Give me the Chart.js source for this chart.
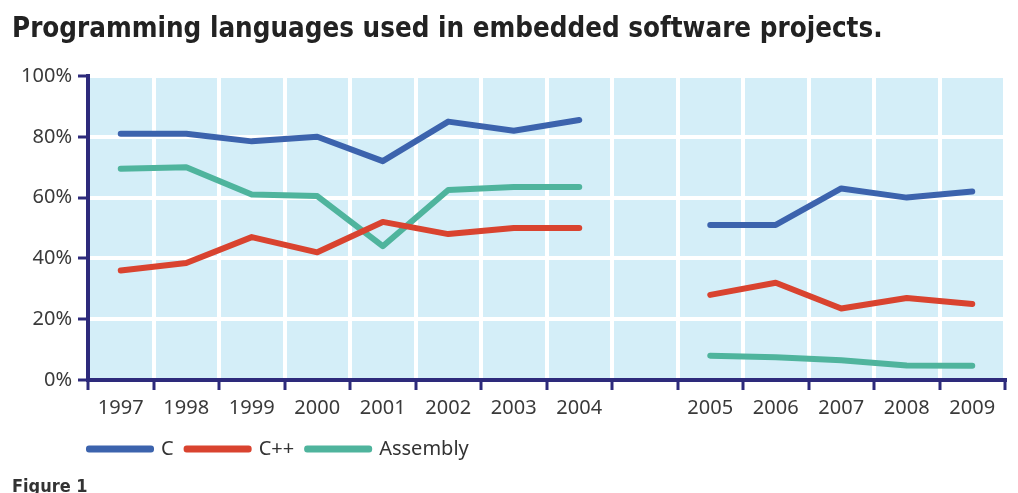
<!DOCTYPE html>
<html>
<head>
<meta charset="utf-8">
<script src="https://cdn.jsdelivr.net/npm/chart.js@4"></script>
<style>
  html, body { margin: 0; padding: 0; background: #fff; overflow: hidden; }
  #wrap { width: 1018px; height: 493px; overflow: hidden; }
</style>
</head>
<body>
<div id="wrap">
  <canvas id="chart" width="1018" height="505"></canvas>
</div>
<script>
// Kategoriler (2004 ile 2005 arasinda bos bir kategori var)
const years = ["1997", "1998", "1999", "2000", "2001", "2002", "2003", "2004", "",
               "2005", "2006", "2007", "2008", "2009"];

// Seri degerleri (%)
const cValues = [81, 81, 78.5, 80, 72, 85, 82, 85.5, null, 51, 51, 63, 60, 62];
const cppValues = [36, 38.5, 47, 42, 52, 48, 50, 50, null, 28, 32, 23.5, 27, 25];
const asmValues = [69.5, 70, 61, 60.5, 44, 62.5, 63.5, 63.5, null, 8, 7.5, 6.5, 4.8, 4.7];

// Y ekseni etiketleri
const yTicks = [0, 20, 40, 60, 80, 100];

const navy = "#2d2a7b";
const tickFont = { family: '"Noto Sans", sans-serif', size: 20 };

// Plot alanini acik maviye boya
const plotBg = {
    id: "plotBg",
    beforeDraw(chart) {
        const a = chart.chartArea;
        const ctx = chart.ctx;
        ctx.save();
        ctx.fillStyle = "#d4eef8";
        ctx.fillRect(a.left, a.top, a.right - a.left, a.bottom - a.top);
        ctx.restore();
    }
};

// Legend'i plot alaninin sol kenarina hizala
const legendShift = {
    id: "legendShift",
    afterLayout(chart) {
        const lg = chart.legend;
        if (!lg) return;
        const dx = chart.chartArea.left - 12 - lg.left;
        lg.left += dx;
        lg.right += dx;
    }
};

function lineSet(label, data, color) {
    return {
        label: label,
        data: data,
        borderColor: color,
        backgroundColor: color,
        borderWidth: 6,
        borderCapStyle: "round",
        borderJoinStyle: "round",
        pointRadius: 0,
        pointHoverRadius: 0,
        tension: 0,
        spanGaps: false
    };
}

new Chart(document.getElementById("chart").getContext("2d"), {
    type: "line",
    data: {
        labels: years,
        datasets: [
            lineSet("C", cValues, "#3c63ad"),
            lineSet("C++", cppValues, "#d9432f"),
            lineSet("Assembly", asmValues, "#4fb49d")
        ]
    },
    plugins: [plotBg, legendShift],
    options: {
        responsive: false,
        animation: false,
        layout: { padding: { left: 12, right: 13, top: 0, bottom: 0 } },
        plugins: {
            title: {
                display: true,
                text: "Programming languages used in embedded software projects.",
                align: "start",
                color: "#222",
                font: { family: '"Liberation Sans Narrow", "DejaVu Sans Condensed", sans-serif', size: 27.5, weight: "bold", lineHeight: "34px" },
                padding: { top: 13, bottom: 29 }
            },
            subtitle: {
                display: true,
                text: "Figure 1",
                position: "bottom",
                align: "start",
                color: "#333",
                font: { family: '"Liberation Sans Narrow", "DejaVu Sans Condensed", sans-serif', size: 18, weight: "bold", lineHeight: "20px" },
                padding: { top: 8, bottom: 8 }
            },
            legend: {
                position: "bottom",
                align: "start",
                labels: {
                    boxWidth: 62,
                    boxHeight: 1,
                    padding: 13,
                    color: "#333",
                    font: tickFont
                }
            },
            tooltip: { enabled: false }
        },
        scales: {
            x: {
                offset: true,
                grid: {
                    offset: true,
                    color: "#ffffff",
                    lineWidth: 4,
                    tickColor: navy,
                    tickWidth: 3,
                    tickLength: 10
                },
                border: { color: navy, width: 4 },
                ticks: { color: "#3a3a3a", font: tickFont, padding: 6, maxRotation: 0, autoSkip: false }
            },
            y: {
                min: 0,
                max: 100,
                afterFit(scale) { scale.width = 76; },
                afterBuildTicks(scale) { scale.ticks = yTicks.map(v => ({ value: v })); },
                grid: {
                    color: "#ffffff",
                    lineWidth: 4,
                    tickColor: navy,
                    tickWidth: 3,
                    tickLength: 10
                },
                border: { color: navy, width: 4 },
                ticks: {
                    color: "#3a3a3a",
                    font: tickFont,
                    padding: 6,
                    callback: v => v + "%"
                }
            }
        }
    }
});
</script>
</body>
</html>
